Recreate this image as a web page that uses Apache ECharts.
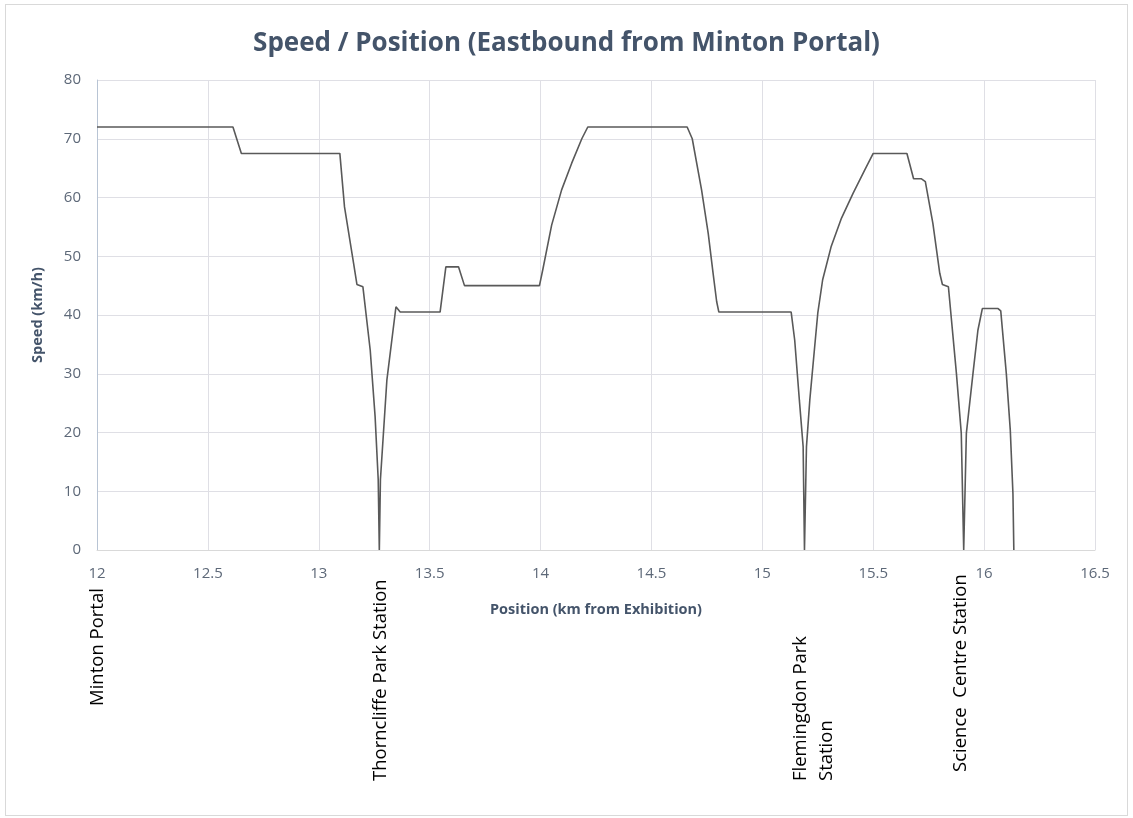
<!DOCTYPE html>
<html>
<head>
<meta charset="utf-8">
<title>Speed / Position</title>
<script src="https://cdn.jsdelivr.net/npm/echarts@6/dist/echarts.min.js"></script>
<style>
  html, body { margin: 0; padding: 0; background: #fff; }
  #frame { position: absolute; left: 5px; top: 4px; width: 1121px; height: 810px; border: 1px solid #d9d9d9; }
  #chart { position: absolute; left: 0; top: 0; width: 1133px; height: 818px; }
</style>
</head>
<body>
<div id="frame"></div>
<div id="chart"></div>
<script>
// Speed / position profile, eastbound from Minton Portal
const positionKm = [
  12, 12.613, 12.651, 13.095, 13.116, 13.157, 13.172, 13.199, 13.232, 13.254,
  13.268, 13.273, 13.278, 13.307, 13.348, 13.357, 13.367, 13.547, 13.573, 13.630,
  13.657, 13.995, 14.010, 14.050, 14.095, 14.140, 14.186, 14.213, 14.661, 14.684,
  14.726, 14.756, 14.778, 14.794, 14.804, 15.130, 15.146, 15.167, 15.184, 15.190,
  15.199, 15.214, 15.236, 15.250, 15.272, 15.310, 15.357, 15.409, 15.462, 15.500,
  15.652, 15.682, 15.716, 15.735, 15.769, 15.800, 15.812, 15.839, 15.875, 15.897,
  15.908, 15.920, 15.950, 15.972, 15.992, 16.063, 16.075, 16.100, 16.118, 16.130,
  16.134
];
const speedKmh = [
  72, 72, 67.5, 67.5, 58.4, 48.8, 45.2, 44.8, 34, 22.7,
  12, 0, 12, 28.9, 41.4, 41.4, 40.5, 40.5, 48.2, 48.2,
  45, 45, 47.7, 55.3, 61.3, 65.8, 70, 72, 72, 70,
  61.3, 53.9, 47.1, 42.3, 40.5, 40.5, 35.7, 25.5, 17.6, 0,
  17.6, 25.5, 34.6, 40.3, 46, 51.6, 56.5, 60.7, 64.7, 67.5,
  67.5, 63.2, 63.2, 62.7, 55.6, 47.1, 45.2, 44.8, 30.1, 19.9,
  0, 19.9, 30.1, 37.4, 41.1, 41.1, 40.7, 30.1, 20.4, 9.6,
  0
];
const stationNames = ['Minton Portal', 'Thorncliffe Park Station', 'Flemingdon Park\nStation', 'Science  Centre Station'];
const stationKm = [12, 13.273, 15.19, 15.908];

// label box placement (pixel nudges relative to the station position)
const labelLayout = [
  { dx: 1, bottom: 706 },
  { dx: 1, bottom: 781 },
  { dx: 9, bottom: 781 },
  { dx: -3, bottom: 772 }
];

const chart = echarts.init(document.getElementById('chart'), null, { renderer: 'canvas' });
const axisText = '#5d6878';
const slate = '#44546a';

chart.setOption({
  animation: false,
  backgroundColor: 'transparent',
  title: {
    text: 'Speed / Position (Eastbound from Minton Portal)',
    left: 'center', top: 26,
    textStyle: { color: slate, fontFamily: 'Open Sans', fontWeight: 'bold', fontSize: 26 }
  },
  grid: { left: 97, right: 38, top: 80, bottom: 268 },
  xAxis: {
    type: 'value', min: 12, max: 16.5, interval: 0.5,
    name: 'Position (km from Exhibition)', nameLocation: 'middle', nameGap: 52,
    nameTextStyle: { color: slate, fontFamily: 'Open Sans', fontWeight: 'bold', fontSize: 14.5 },
    axisLine: { lineStyle: { color: '#d9d9d9', width: 1 } },
    axisTick: { show: false },
    axisLabel: { color: axisText, fontFamily: 'Open Sans', fontSize: 15, margin: 16 },
    splitLine: { show: true, lineStyle: { color: '#dfdfe5', width: 1 } }
  },
  yAxis: {
    type: 'value', min: 0, max: 80, interval: 10,
    name: 'Speed (km/h)', nameLocation: 'middle', nameGap: 52,
    nameTextStyle: { color: slate, fontFamily: 'Open Sans', fontWeight: 'bold', fontSize: 14.5 },
    axisLine: { show: true, lineStyle: { color: '#b8c4d4', width: 1 } },
    axisTick: { show: false },
    axisLabel: { color: axisText, fontFamily: 'Open Sans', fontSize: 15, margin: 16 },
    splitLine: { lineStyle: { color: '#dfdfe5', width: 1 } }
  },
  series: [{
    type: 'line',
    data: positionKm.map((x, i) => [x, speedKmh[i]]),
    showSymbol: false,
    lineStyle: { color: '#595959', width: 1.6 },
    z: 5
  }]
});

// station labels, rotated, anchored to the station positions on the x axis
chart.setOption({
  graphic: stationNames.map((name, i) => {
    const px = chart.convertToPixel({ xAxisIndex: 0 }, stationKm[i]);
    return {
      type: 'text',
      x: px + labelLayout[i].dx,
      y: labelLayout[i].bottom,
      rotation: Math.PI / 2,
      style: {
        text: name, fill: '#000', fontFamily: 'Open Sans', fontSize: 18.5,
        align: 'left', verticalAlign: 'middle', lineHeight: 26
      }
    };
  })
});
</script>
</body>
</html>
